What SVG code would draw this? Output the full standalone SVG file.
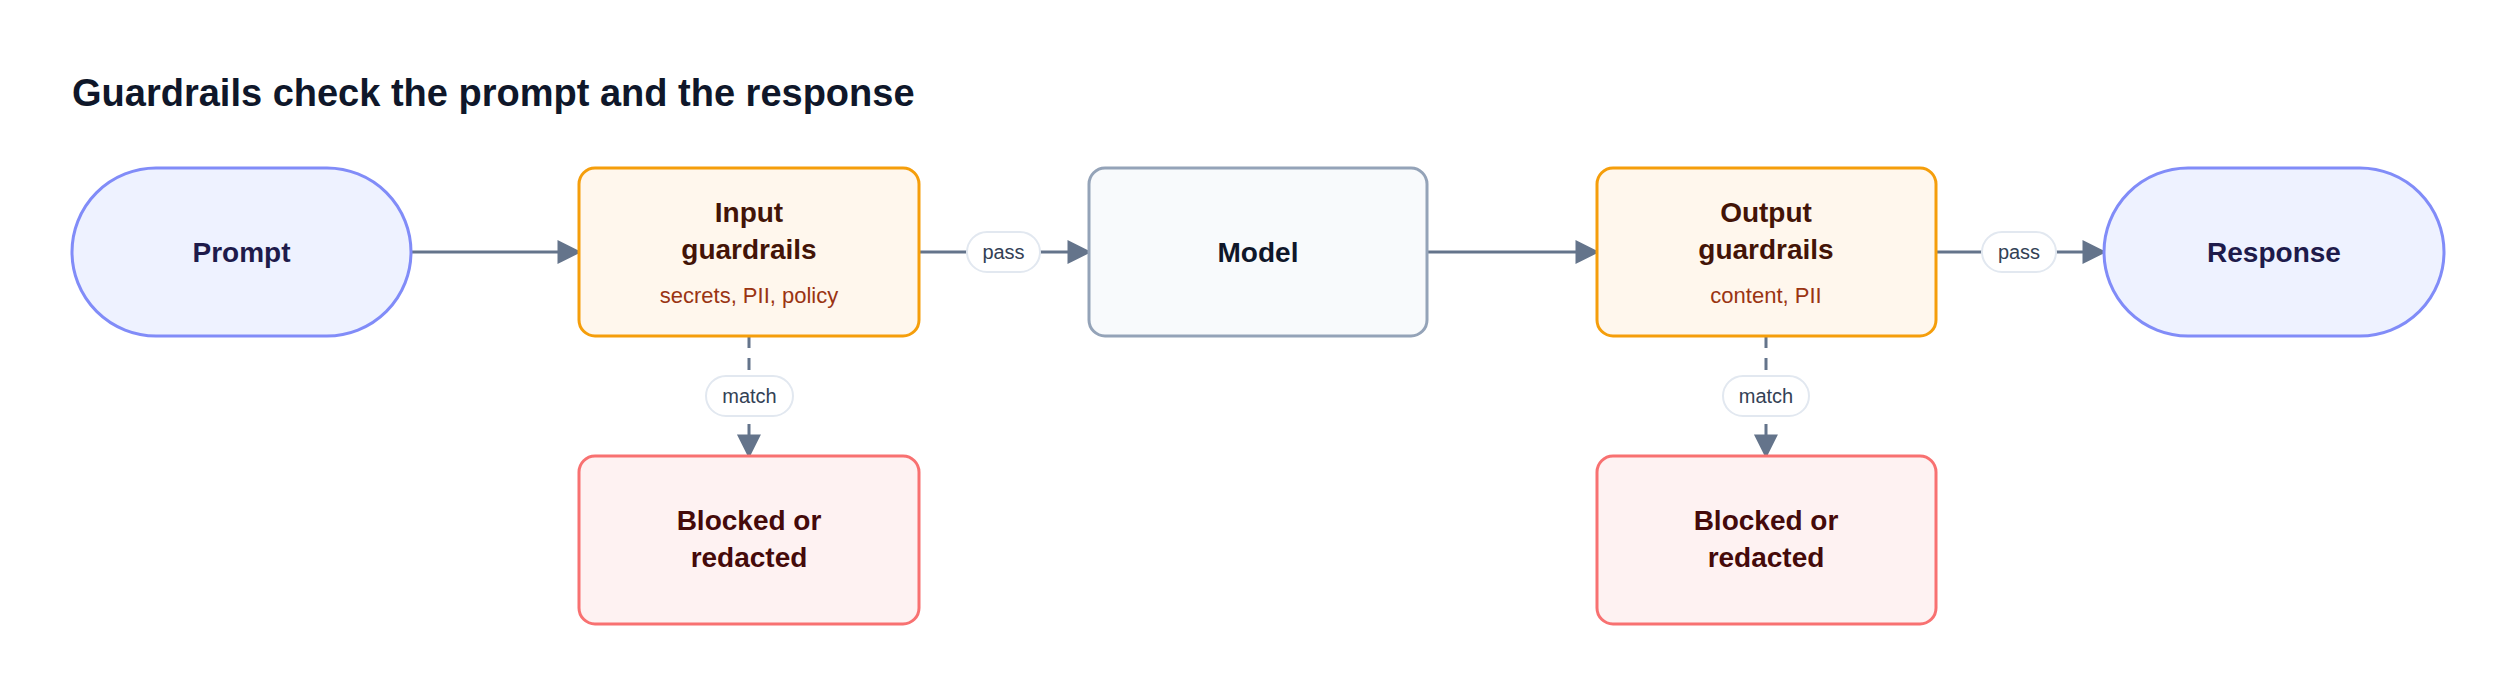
<svg xmlns="http://www.w3.org/2000/svg" width="2516" height="696" viewBox="0 0 2516 696">
<defs>
<marker id="ah" markerWidth="10" markerHeight="10" refX="9" refY="5" orient="auto" markerUnits="userSpaceOnUse" viewBox="0 0 10 10" style="overflow:visible"><path d="M0,0 L10,5 L0,10 z" fill="#64748b" transform="scale(2.4) translate(-5.2,-2.9)"/></marker>
<style>
text{font-family:"Liberation Sans",Arial,sans-serif;text-anchor:middle}
.t{font-weight:bold;font-size:28px}
.e{stroke:#64748b;stroke-width:3;fill:none}
.d{stroke-dasharray:12 10}
.lb{fill:#fff;stroke:#e2e8f0;stroke-width:2}
.lt{font-size:20px;fill:#334155}
</style>
</defs>
<rect width="2516" height="696" fill="#fff"/>
<text x="72" y="106" style="text-anchor:start;font-weight:bold;font-size:38px;fill:#0f172a">Guardrails check the prompt and the response</text>
<g id="connectors">
<line class="e" x1="411" y1="252" x2="579" y2="252" marker-end="url(#ah)"/>
<line class="e" x1="919" y1="252" x2="1089" y2="252" marker-end="url(#ah)"/>
<line class="e" x1="1427" y1="252" x2="1597" y2="252" marker-end="url(#ah)"/>
<line class="e" x1="1936" y1="252" x2="2104" y2="252" marker-end="url(#ah)"/>
<line class="e d" x1="749" y1="336" x2="749" y2="456" marker-end="url(#ah)"/>
<line class="e d" x1="1766" y1="336" x2="1766" y2="456" marker-end="url(#ah)"/>
<rect class="lb" x="967" y="232" width="73" height="40" rx="20"/><text class="lt" x="1003.5" y="259">pass</text>
<rect class="lb" x="1982" y="232" width="74" height="40" rx="20"/><text class="lt" x="2019" y="259">pass</text>
<rect class="lb" x="706" y="376" width="87" height="40" rx="20"/><text class="lt" x="749.5" y="403">match</text>
<rect class="lb" x="1723" y="376" width="86" height="40" rx="20"/><text class="lt" x="1766" y="403">match</text>
</g>
<g id="prompt"><rect x="72" y="168" width="339" height="168" rx="84" fill="#eef2ff" stroke="#818cf8" stroke-width="3"/><text class="t" x="241.5" y="262" fill="#1e1b4b">Prompt</text></g>
<g id="input"><rect x="579" y="168" width="340" height="168" rx="16" fill="#fff7ed" stroke="#f59e0b" stroke-width="3"/><text class="t" x="749" y="222" fill="#431407">Input</text><text class="t" x="749" y="259" fill="#431407">guardrails</text><text x="749" y="303" style="font-size:22px" fill="#9a3412">secrets, PII, policy</text></g>
<g id="model"><rect x="1089" y="168" width="338" height="168" rx="16" fill="#f8fafc" stroke="#94a3b8" stroke-width="3"/><text class="t" x="1258" y="262" fill="#0f172a">Model</text></g>
<g id="output"><rect x="1597" y="168" width="339" height="168" rx="16" fill="#fff7ed" stroke="#f59e0b" stroke-width="3"/><text class="t" x="1766" y="222" fill="#431407">Output</text><text class="t" x="1766" y="259" fill="#431407">guardrails</text><text x="1766" y="303" style="font-size:22px" fill="#9a3412">content, PII</text></g>
<g id="response"><rect x="2104" y="168" width="340" height="168" rx="84" fill="#eef2ff" stroke="#818cf8" stroke-width="3"/><text class="t" x="2274" y="262" fill="#1e1b4b">Response</text></g>
<g id="blocked1"><rect x="579" y="456" width="340" height="168" rx="16" fill="#fef2f2" stroke="#f87171" stroke-width="3"/><text class="t" x="749" y="530" fill="#450a0a">Blocked or</text><text class="t" x="749" y="567" fill="#450a0a">redacted</text></g>
<g id="blocked2"><rect x="1597" y="456" width="339" height="168" rx="16" fill="#fef2f2" stroke="#f87171" stroke-width="3"/><text class="t" x="1766" y="530" fill="#450a0a">Blocked or</text><text class="t" x="1766" y="567" fill="#450a0a">redacted</text></g>
</svg>
